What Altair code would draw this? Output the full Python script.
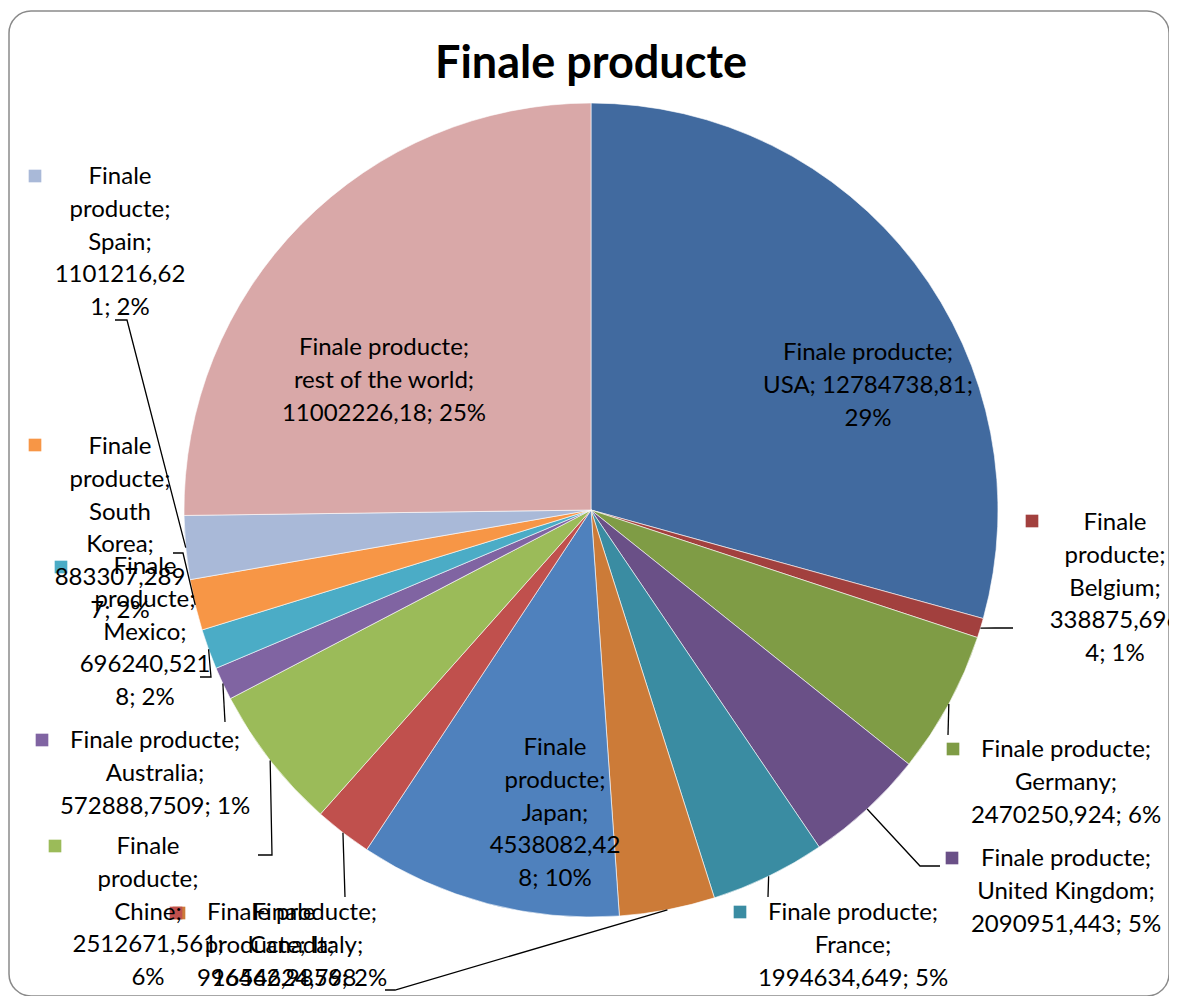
import altair as alt
import pandas as pd
import numpy as np

# ---------------- data ----------------
title_text = "Finale producte"
countries = ["USA", "Belgium", "Germany", "United Kingdom", "France", "Italy", "Japan",
             "Canada", "Chine", "Australia", "Mexico", "South Korea", "Spain", "rest of the world"]
values = [12784738.81, 338875.6964, 2470250.924, 2090951.443, 1994634.649, 1654624.7985,
          4538082.428, 996462.9856, 2512671.561, 572888.7509, 696240.5218, 883307.2897,
          1101216.621, 11002226.18]
pct_text = ["29%", "1%", "6%", "5%", "5%", "4%", "10%", "2%", "6%", "1%", "2%", "2%", "2%", "25%"]
colors = ["#416A9F", "#A2403E", "#7F9C45", "#6A5087", "#3A8CA2", "#CC7B38", "#4F81BD",
          "#C0504D", "#9BBB59", "#8064A2", "#4BACC6", "#F79646", "#A9B9D8", "#D9A8A8"]

# wrapped label lines as they appear in the picture
label_lines = {
    "USA": ["Finale producte;", "USA; 12784738,81;", "29%"],
    "Belgium": ["Finale", "producte;", "Belgium;", "338875,696", "4; 1%"],
    "Germany": ["Finale producte;", "Germany;", "2470250,924; 6%"],
    "United Kingdom": ["Finale producte;", "United Kingdom;", "2090951,443; 5%"],
    "France": ["Finale producte;", "France;", "1994634,649; 5%"],
    "Italy": ["Finale", "producte; Italy;", "1654624,798", "5; 4%"],
    "Japan": ["Finale", "producte;", "Japan;", "4538082,42", "8; 10%"],
    "Canada": ["Finale producte;", "Canada;", "996462,9856; 2%"],
    "Chine": ["Finale", "producte;", "Chine;", "2512671,561;", "6%"],
    "Australia": ["Finale producte;", "Australia;", "572888,7509; 1%"],
    "Mexico": ["Finale", "producte;", "Mexico;", "696240,521", "8; 2%"],
    "South Korea": ["Finale", "producte;", "South", "Korea;", "883307,289", "7; 2%"],
    "Spain": ["Finale", "producte;", "Spain;", "1101216,62", "1; 2%"],
    "rest of the world": ["Finale producte;", "rest of the world;", "11002226,18; 25%"],
}

# ---------------- layout (page pixel positions) ----------------
OX, OY = 9, 11                 # view origin on the page
CX, CY, R = 591, 510, 407      # pie centre and radius on the page
LH = 32.8                      # label line height

label_pos = {  # centre x, first-line centre y
    "USA": (868, 353), "Belgium": (1115, 523), "Germany": (1066, 750),
    "United Kingdom": (1066, 859), "France": (853, 913), "Italy": (284, 913),
    "Japan": (555, 748), "Canada": (292, 913), "Chine": (148, 847),
    "Australia": (155, 741), "Mexico": (145, 567), "South Korea": (120, 447),
    "Spain": (120, 177), "rest of the world": (384, 348),
}
key_pos = {  # legend-key squares
    "Belgium": (1032, 521), "Germany": (953, 749), "United Kingdom": (952, 858),
    "France": (740, 912), "Italy": (179, 913), "Canada": (176, 913),
    "Chine": (55, 846), "Australia": (42, 740), "Mexico": (61, 567),
    "South Korea": (35, 445), "Spain": (35, 176),
}
leader_tail = {  # leader points after the slice edge
    "Belgium": [(995, 628), (1013, 628)],
    "Germany": [(948, 735)],
    "United Kingdom": [(920, 866), (940, 866)],
    "France": [(768, 897)],
    "Italy": [(395, 990), (385, 990)],
    "Canada": [(345, 897)],
    "Chine": [(272, 855), (258, 855)],
    "Australia": [(225, 722)],
    "Mexico": [(211, 677), (200, 677)],
    "South Korea": [(183, 553), (173, 553)],
    "Spain": [(127, 320), (115, 320)],
}

# ---------------- tables ----------------
pie_df = pd.DataFrame({"country": countries, "value": values, "idx": range(len(countries))})

vals = np.array(values)
total = vals.sum()
ends = np.cumsum(vals) / total * 2 * np.pi
starts = ends - vals / total * 2 * np.pi
mids = (starts + ends) / 2

rows = []
for c, (cx, y0) in label_pos.items():
    for i, t in enumerate(label_lines[c]):
        rows.append({"x": cx - OX, "y": y0 + i * LH - OY, "text": t})
text_df = pd.DataFrame(rows)

key_df = pd.DataFrame([{"country": c, "x": p[0] - OX, "y": p[1] - OY} for c, p in key_pos.items()])

lrows = []
for c, tail in leader_tail.items():
    a = mids[countries.index(c)]
    sx, sy = CX + R * np.sin(a), CY - R * np.cos(a)
    pts = [(sx, sy)] + tail
    for k, (px, py) in enumerate(pts):
        lrows.append({"country": c, "k": k, "x": px - OX, "y": py - OY})
lead_df = pd.DataFrame(lrows)

color_scale = alt.Scale(domain=countries, range=colors)
FONT = "Lato"

pie = alt.Chart(pie_df).mark_arc(outerRadius=R, stroke="white", strokeWidth=0.6).encode(
    theta=alt.Theta("value:Q", stack=True),
    color=alt.Color("country:N", scale=color_scale, legend=None),
    order=alt.Order("idx:Q"),
    x=alt.value(CX - OX),
    y=alt.value(CY - OY),
)

leaders = alt.Chart(lead_df).mark_line(color="black", strokeWidth=1.3).encode(
    x=alt.X("x:Q", scale=None, axis=None),
    y=alt.Y("y:Q", scale=None, axis=None),
    detail="country:N",
    order="k:Q",
)

keys = alt.Chart(key_df).mark_square(size=160, opacity=1).encode(
    x=alt.X("x:Q", scale=None, axis=None),
    y=alt.Y("y:Q", scale=None, axis=None),
    color=alt.Color("country:N", scale=color_scale, legend=None),
)

labels = alt.Chart(text_df).mark_text(font=FONT, fontSize=24, align="center",
                                      baseline="middle", color="black").encode(
    x=alt.X("x:Q", scale=None, axis=None),
    y=alt.Y("y:Q", scale=None, axis=None),
    text="text:N",
)

title = alt.Chart(pd.DataFrame({"t": [title_text]})).mark_text(
    font=FONT, fontSize=45, fontWeight="bold", align="center", baseline="alphabetic",
    color="black").encode(text="t:N", x=alt.value(591 - OX), y=alt.value(78 - OY))

chart = alt.layer(pie, leaders, keys, labels, title).properties(
    width=1160, height=985,
    autosize=alt.AutoSizeParams(type="none"),
    padding={"left": 1, "top": 3, "right": 0, "bottom": 0},
).configure_view(stroke="#8A8A8A", strokeWidth=1.5, cornerRadius=22)

chart.save("out.html", embed_options={"renderer": "svg", "actions": False})
